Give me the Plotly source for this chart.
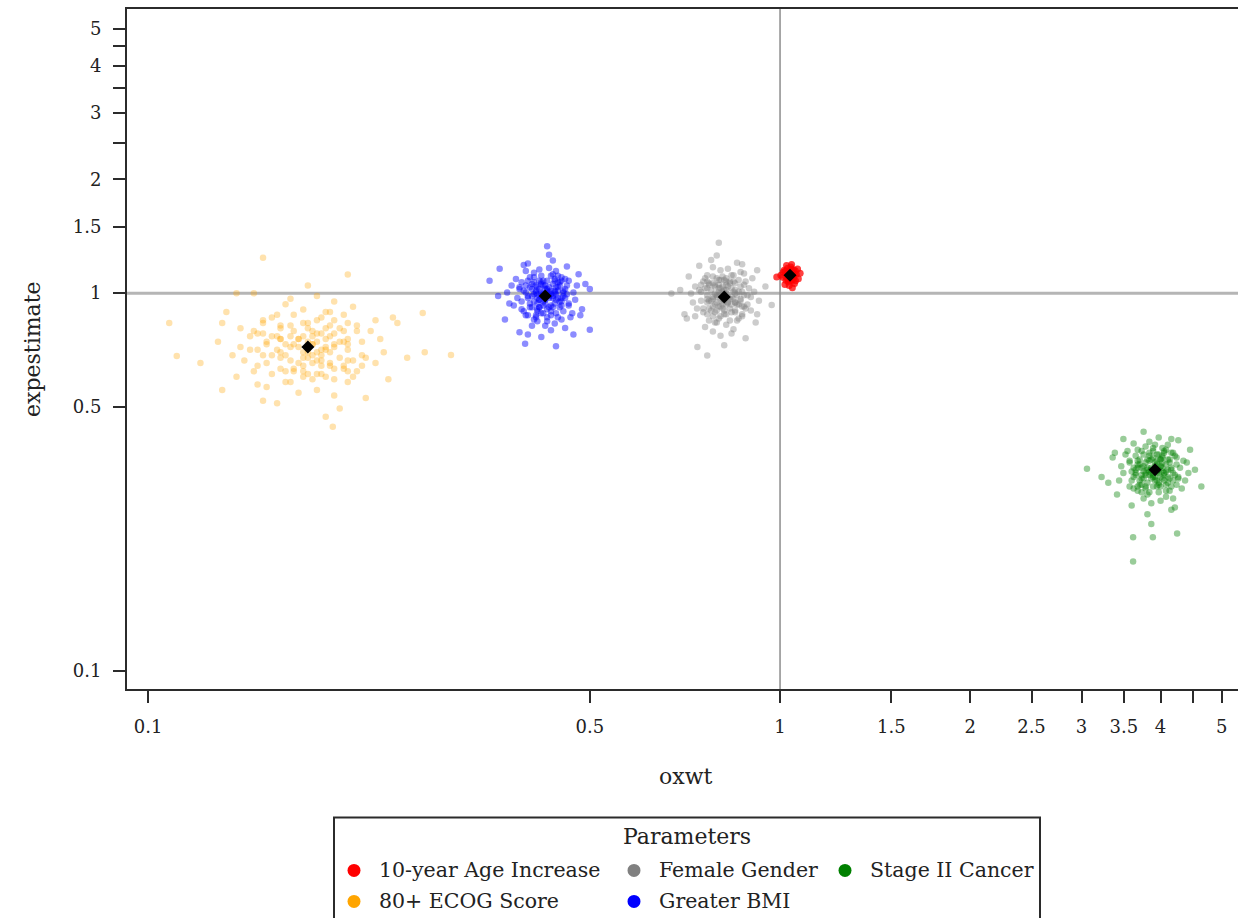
import plotly.graph_objects as go

# ---------------- data ----------------
series_names = ["10-year Age Increase", "80+ ECOG Score", "Female Gender",
                "Greater BMI", "Stage II Cancer"]
series_colors = ["#FF0000", "#FFA500", "#808080", "#0000FF", "#008000"]

age_x = [1.042, 1.019, 1.051, 1.031, 1.061, 1.036, 1.046, 1.010, 1.040, 1.027,
         1.054, 1.033, 1.037, 1.069, 1.022, 1.045, 1.028, 1.057, 1.003, 1.049,
         1.034, 1.043, 1.015, 1.052, 1.025, 1.039, 1.066, 1.030, 1.048, 1.018,
         1.040, 1.024, 1.058, 1.036, 1.046, 1.012, 1.042, 1.076, 1.031, 1.051,
         0.988]
age_y = [1.098, 1.142, 1.152, 1.071, 1.122, 1.118, 1.084, 1.101, 1.173, 1.129,
         1.061, 1.108, 1.135, 1.091, 1.081, 1.125, 1.163, 1.146, 1.115, 1.105,
         1.047, 1.190, 1.149, 1.115, 1.095, 1.078, 1.159, 1.122, 1.132, 1.054,
         1.112, 1.183, 1.078, 1.146, 1.033, 1.135, 1.156, 1.129, 1.088, 1.098,
         1.104]

ecog_x = [0.165, 0.204, 0.214, 0.145, 0.185, 0.182, 0.154, 0.168, 0.236, 0.191,
          0.138, 0.173, 0.197, 0.160, 0.152, 0.188, 0.225, 0.207, 0.179, 0.170,
          0.129, 0.257, 0.211, 0.179, 0.162, 0.149, 0.221, 0.185, 0.194, 0.133,
          0.176, 0.248, 0.149, 0.207, 0.121, 0.197, 0.218, 0.191, 0.157, 0.165,
          0.188, 0.168, 0.240, 0.147, 0.179, 0.140, 0.173, 0.201, 0.142, 0.176,
          0.204, 0.233, 0.154, 0.179, 0.191, 0.170, 0.201, 0.160, 0.229, 0.154,
          0.188, 0.207, 0.136, 0.214, 0.168, 0.194, 0.176, 0.165, 0.274, 0.149,
          0.197, 0.229, 0.162, 0.179, 0.211, 0.194, 0.147, 0.204, 0.140, 0.131,
          0.185, 0.207, 0.162, 0.182, 0.131, 0.185, 0.244, 0.152, 0.182, 0.218,
          0.108, 0.111, 0.3015, 0.152, 0.196, 0.138, 0.272,
          0.188, 0.176, 0.194, 0.204, 0.170, 0.162, 0.157, 0.185, 0.211, 0.191,
          0.197, 0.152, 0.173, 0.149, 0.207, 0.179, 0.165, 0.185, 0.170, 0.201,
          0.182, 0.162, 0.218, 0.145, 0.194, 0.182, 0.160, 0.176, 0.197, 0.188,
          0.157, 0.168, 0.173, 0.207, 0.214, 0.191, 0.162, 0.176, 0.188, 0.154,
          0.165, 0.188, 0.176, 0.201, 0.207, 0.191, 0.197, 0.168, 0.152, 0.182,
          0.173, 0.168, 0.194, 0.207, 0.157, 0.147, 0.185, 0.170, 0.221, 0.197,
          0.176, 0.185, 0.160, 0.197, 0.204, 0.152, 0.182, 0.162, 0.191, 0.179]
ecog_y = [0.685, 0.876, 0.621, 0.769, 0.554, 0.732, 0.653, 0.966, 0.697, 0.807,
          0.601, 0.756, 0.720, 0.511, 0.848, 0.663, 0.794, 0.582, 1.048, 0.631,
          0.744, 0.675, 0.920, 0.611, 0.821, 0.708, 0.528, 0.782, 0.642, 0.891,
          0.697, 0.834, 0.573, 0.732, 0.653, 0.950, 0.685, 0.471, 0.769, 0.621,
          0.862, 0.720, 0.592, 0.999, 0.675, 0.807, 0.545, 0.744, 0.663, 0.905,
          0.631, 0.756, 0.564, 0.834, 0.708, 0.794, 0.495, 0.876, 0.653, 0.732,
          0.611, 1.120, 0.685, 0.821, 0.582, 0.769, 0.642, 0.935, 0.697, 0.782,
          0.536, 0.848, 0.675, 0.744, 0.601, 0.891, 0.621, 0.794, 0.720, 0.554,
          0.982, 0.663, 0.756, 0.592, 0.834, 0.697, 0.862, 0.519, 0.769, 0.642,
          0.833, 0.682, 0.686, 1.240, 0.443, 1.000, 0.886,
          0.708, 0.769, 0.653, 0.744, 0.621, 0.807, 0.685, 0.848, 0.663, 0.756,
          0.592, 0.782, 0.720, 0.642, 0.834, 0.697, 0.732, 0.611, 0.876, 0.675,
          0.794, 0.631, 0.744, 0.708, 0.821, 0.653, 0.769, 0.601, 0.732, 0.685,
          0.862, 0.663, 0.756, 0.621, 0.794, 0.720, 0.697, 0.834, 0.642, 0.744,
          0.582, 0.782, 0.675, 0.807, 0.708, 0.891, 0.631, 0.769, 0.685, 0.732,
          0.653, 0.821, 0.697, 0.756, 0.611, 0.794, 0.663, 0.732, 0.675, 0.848,
          0.621, 0.744, 0.708, 0.782, 0.642, 0.834, 0.685, 0.756, 0.601, 0.807]

female_x = [0.844, 0.772, 0.756, 0.888, 0.805, 0.811, 0.866, 0.838, 0.723, 0.794,
            0.904, 0.827, 0.783, 0.855, 0.871, 0.800, 0.739, 0.767, 0.816, 0.833,
            0.926, 0.695, 0.761, 0.816, 0.849, 0.877, 0.745, 0.805, 0.789, 0.915,
            0.822, 0.706, 0.877, 0.767, 0.948, 0.783, 0.750, 0.794, 0.860, 0.844,
            0.800, 0.838, 0.717, 0.882, 0.816, 0.899, 0.827, 0.778, 0.893, 0.822,
            0.772, 0.728, 0.866, 0.816, 0.794, 0.833, 0.778, 0.855, 0.734, 0.866,
            0.800, 0.767, 0.910, 0.756, 0.838, 0.789, 0.822, 0.844, 0.673, 0.877,
            0.783, 0.734, 0.849, 0.816, 0.761, 0.789, 0.882, 0.772, 0.899, 0.920,
            0.805, 0.767, 0.849, 0.811, 0.920, 0.805, 0.712, 0.871, 0.811, 0.750,
            0.800, 0.740, 0.970,
            0.800, 0.822, 0.789, 0.772, 0.833, 0.849, 0.860, 0.805, 0.761, 0.794,
            0.783, 0.871, 0.827, 0.877, 0.767, 0.816, 0.844, 0.805, 0.833, 0.778,
            0.811, 0.849, 0.750, 0.888, 0.789, 0.811, 0.855, 0.822, 0.783, 0.800,
            0.860, 0.838, 0.827, 0.767, 0.756, 0.794, 0.849, 0.822, 0.800, 0.866,
            0.844, 0.800, 0.822, 0.778, 0.767, 0.794, 0.783, 0.838, 0.871, 0.811,
            0.827, 0.838, 0.789, 0.767, 0.860, 0.882, 0.805, 0.833, 0.745, 0.783,
            0.822, 0.805, 0.855, 0.783, 0.772, 0.871, 0.811, 0.849, 0.794, 0.816]
female_y = [1.008, 0.846, 1.073, 0.933, 1.149, 0.965, 1.041, 0.782, 0.998, 0.900,
            1.095, 0.944, 0.976, 1.203, 0.868, 1.030, 0.911, 1.116, 0.728, 1.062,
            0.954, 1.019, 0.814, 1.084, 0.890, 0.987, 1.181, 0.922, 1.052, 0.836,
            0.998, 0.879, 1.127, 0.965, 1.041, 0.792, 1.008, 1.257, 0.933, 1.073,
            0.857, 0.976, 1.106, 0.760, 1.019, 0.900, 1.160, 0.954, 1.030, 0.825,
            1.062, 0.944, 1.138, 0.879, 0.987, 0.911, 1.224, 0.846, 1.041, 0.965,
            1.084, 0.684, 1.008, 0.890, 1.116, 0.933, 1.052, 0.803, 0.998, 0.922,
            1.170, 0.868, 1.019, 0.954, 1.095, 0.836, 1.073, 0.911, 0.976, 1.149,
            0.771, 1.030, 0.944, 1.106, 0.879, 0.998, 0.857, 1.192, 0.933, 1.052,
            1.360, 0.720, 0.930,
            0.987, 0.933, 1.041, 0.954, 1.073, 0.900, 1.008, 0.868, 1.030, 0.944,
            1.106, 0.922, 0.976, 1.052, 0.879, 0.998, 0.965, 1.084, 0.846, 1.019,
            0.911, 1.062, 0.954, 0.987, 0.890, 1.041, 0.933, 1.095, 0.965, 1.008,
            0.857, 1.030, 0.944, 1.073, 0.911, 0.976, 0.998, 0.879, 1.052, 0.954,
            1.116, 0.922, 1.019, 0.900, 0.987, 0.836, 1.062, 0.933, 1.008, 0.965,
            1.041, 0.890, 0.998, 0.944, 1.084, 0.911, 1.030, 0.965, 1.019, 0.868,
            1.073, 0.954, 0.987, 0.922, 1.052, 0.879, 1.008, 0.944, 1.095, 0.900]

bmi_x = [0.434, 0.390, 0.451, 0.413, 0.471, 0.422, 0.442, 0.373, 0.431, 0.405,
         0.457, 0.416, 0.425, 0.486, 0.396, 0.440, 0.408, 0.463, 0.358, 0.448,
         0.419, 0.437, 0.382, 0.454, 0.402, 0.428, 0.480, 0.411, 0.445, 0.387,
         0.431, 0.399, 0.466, 0.422, 0.442, 0.376, 0.434, 0.500, 0.413, 0.451,
         0.393, 0.425, 0.460, 0.367, 0.437, 0.405, 0.474, 0.419, 0.440, 0.384,
         0.448, 0.416, 0.469, 0.399, 0.428, 0.408, 0.492, 0.390, 0.442, 0.422,
         0.454, 0.347, 0.434, 0.402, 0.463, 0.413, 0.445, 0.379, 0.431, 0.411,
         0.477, 0.396, 0.437, 0.419, 0.457, 0.387, 0.451, 0.408, 0.425, 0.471,
         0.370, 0.440, 0.416, 0.460, 0.399, 0.431, 0.393, 0.483, 0.413, 0.445,
         0.428, 0.395, 0.500, 0.360,
         0.428, 0.413, 0.442, 0.419, 0.451, 0.405, 0.434, 0.396, 0.440, 0.416,
         0.460, 0.411, 0.425, 0.445, 0.399, 0.431, 0.422, 0.454, 0.390, 0.437,
         0.408, 0.448, 0.419, 0.428, 0.402, 0.442, 0.413, 0.457, 0.422, 0.434,
         0.393, 0.440, 0.416, 0.451, 0.408, 0.425, 0.431, 0.399, 0.445, 0.419,
         0.463, 0.411, 0.437, 0.405, 0.428, 0.387, 0.448, 0.413, 0.434, 0.422,
         0.442, 0.402, 0.431, 0.416, 0.454, 0.408, 0.440, 0.422, 0.437, 0.396,
         0.451, 0.419, 0.428, 0.411, 0.445, 0.399, 0.434, 0.416, 0.457, 0.405]
bmi_y = [0.928, 1.068, 1.101, 0.842, 1.004, 0.993, 0.885, 0.939, 1.166, 1.025,
         0.809, 0.960, 1.047, 0.906, 0.874, 1.014, 1.133, 1.079, 0.982, 0.950,
         0.766, 1.220, 1.090, 0.982, 0.917, 0.863, 1.122, 1.004, 1.036, 0.788,
         0.971, 1.198, 0.863, 1.079, 0.723, 1.047, 1.112, 1.025, 0.896, 0.928,
         1.014, 0.939, 1.176, 0.852, 0.982, 0.820, 0.960, 1.058, 0.831, 0.971,
         1.068, 1.155, 0.885, 0.982, 1.025, 0.950, 1.058, 0.906, 1.144, 0.885,
         1.014, 1.079, 0.798, 1.101, 0.939, 1.036, 0.971, 0.928, 1.263, 0.863,
         1.047, 1.144, 0.917, 0.982, 1.090, 1.036, 0.852, 1.068, 0.820, 0.777,
         1.004, 1.079, 0.917, 0.993, 0.777, 1.004, 1.187, 0.874, 0.993, 1.112,
         1.330, 0.735, 0.800, 1.160,
         1.014, 0.971, 1.036, 1.068, 0.950, 0.917, 0.896, 1.004, 1.090, 1.025,
         1.047, 0.874, 0.960, 0.863, 1.079, 0.982, 0.928, 1.004, 0.950, 1.058,
         0.993, 0.917, 1.112, 0.842, 1.036, 0.993, 0.906, 0.971, 1.047, 1.014,
         0.896, 0.939, 0.960, 1.079, 1.101, 1.025, 0.917, 0.971, 1.014, 0.885,
         0.928, 1.014, 0.971, 1.058, 1.079, 1.025, 1.047, 0.939, 0.874, 0.993,
         0.960, 0.939, 1.036, 1.079, 0.896, 0.852, 1.004, 0.950, 1.122, 1.047,
         0.971, 1.004, 0.906, 1.047, 1.068, 0.874, 0.993, 0.917, 1.025, 0.982]

stage_x = [3.841, 4.241, 3.681, 4.028, 3.494, 3.948, 3.761, 4.402, 3.868, 4.108,
           3.627, 4.001, 3.921, 3.360, 4.188, 3.788, 4.081, 3.574, 4.535, 3.707,
           3.974, 3.814, 4.322, 3.654, 4.135, 3.894, 3.414, 4.055, 3.734, 4.268,
           3.868, 4.161, 3.547, 3.948, 3.761, 4.375, 3.841, 3.227, 4.028, 3.681,
           4.215, 3.921, 3.601, 4.455, 3.814, 4.108, 3.467, 3.974, 3.788, 4.295,
           3.707, 4.001, 3.521, 4.161, 3.894, 4.081, 3.307, 4.241, 3.761, 3.948,
           3.654, 4.642, 3.841, 4.135, 3.574, 4.028, 3.734, 4.348, 3.868, 4.055,
           3.440, 4.188, 3.814, 3.974, 3.627, 4.268, 3.681, 4.081, 3.921, 3.494,
           4.428, 3.788, 4.001, 3.601, 4.161, 3.868, 4.215, 3.387, 4.028, 3.734,
           3.620, 3.620, 3.890, 4.250, 3.060,
           3.894, 4.028, 3.761, 3.974, 3.681, 4.108, 3.841, 4.188, 3.788, 4.001,
           3.601, 4.055, 3.921, 3.734, 4.161, 3.868, 3.948, 3.654, 4.241, 3.814,
           4.081, 3.707, 3.974, 3.894, 4.135, 3.761, 4.028, 3.627, 3.948, 3.841,
           4.215, 3.788, 4.001, 3.681, 4.081, 3.921, 3.868, 4.161, 3.734, 3.974,
           3.574, 4.055, 3.814, 4.108, 3.894, 4.268, 3.707, 4.028, 3.841, 3.948,
           3.761, 4.135, 3.868, 4.001, 3.654, 4.081, 3.788, 3.948, 3.814, 4.188,
           3.681, 3.974, 3.894, 4.055, 3.734, 4.161, 3.841, 4.001, 3.627, 4.108]
stage_y = [0.360, 0.311, 0.300, 0.389, 0.334, 0.337, 0.374, 0.356, 0.278, 0.326,
           0.400, 0.348, 0.319, 0.367, 0.378, 0.330, 0.289, 0.308, 0.341, 0.352,
           0.415, 0.260, 0.304, 0.341, 0.363, 0.382, 0.293, 0.334, 0.323, 0.408,
           0.345, 0.267, 0.382, 0.308, 0.430, 0.319, 0.297, 0.326, 0.371, 0.360,
           0.330, 0.356, 0.274, 0.385, 0.341, 0.397, 0.348, 0.315, 0.393, 0.345,
           0.311, 0.282, 0.374, 0.341, 0.326, 0.352, 0.315, 0.367, 0.286, 0.374,
           0.330, 0.308, 0.404, 0.300, 0.356, 0.323, 0.345, 0.360, 0.245, 0.382,
           0.319, 0.286, 0.363, 0.341, 0.304, 0.323, 0.385, 0.311, 0.397, 0.411,
           0.334, 0.308, 0.363, 0.337, 0.411, 0.334, 0.271, 0.378, 0.337, 0.297,
           0.195, 0.226, 0.226, 0.231, 0.343,
           0.330, 0.345, 0.323, 0.311, 0.352, 0.363, 0.371, 0.334, 0.304, 0.326,
           0.319, 0.378, 0.348, 0.382, 0.308, 0.341, 0.360, 0.334, 0.352, 0.315,
           0.337, 0.363, 0.297, 0.389, 0.323, 0.337, 0.367, 0.345, 0.319, 0.330,
           0.371, 0.356, 0.348, 0.308, 0.300, 0.326, 0.363, 0.345, 0.330, 0.374,
           0.360, 0.330, 0.345, 0.315, 0.308, 0.326, 0.319, 0.356, 0.378, 0.337,
           0.348, 0.356, 0.323, 0.308, 0.371, 0.385, 0.334, 0.352, 0.293, 0.319,
           0.345, 0.334, 0.367, 0.319, 0.311, 0.378, 0.337, 0.363, 0.326, 0.341]

# posterior means per parameter (same order as series_names)
mean_x = [1.037, 0.179, 0.816, 0.425, 3.921]
mean_y = [1.115, 0.720, 0.976, 0.982, 0.341]

x_tick_vals = [0.1, 0.5, 1, 1.5, 2, 2.5, 3, 3.5, 4, 4.5, 5]
x_tick_text = ["0.1", "0.5", "1", "1.5", "2", "2.5", "3", "3.5", "4", "", "5"]
y_tick_vals = [0.1, 0.5, 1, 1.5, 2, 2.5, 3, 3.5, 4, 4.5, 5]
y_tick_text = ["0.1", "0.5", "1", "1.5", "2", "", "3", "", "4", "", "5"]
x_limits = [0.0926, 5.305]
y_limits = [0.0896, 5.65]
ref_value = 1

# ---------------- figure ----------------
W, H = 1248, 918
L, R, T, B = 127, 10, 7, 229
PW, PH = W - L - R, H - T - B
FONT = "DejaVu Serif"
INK = "#2b2b2b"


def px_x(px):
    return (px - L) / PW


def px_y(py):
    return (T + PH - py) / PH


fig = go.Figure()

# reference lines at 1
fig.add_trace(go.Scatter(x=x_limits, y=[ref_value, ref_value], mode="lines",
                         line=dict(color="#b5b5b5", width=3),
                         showlegend=False, hoverinfo="skip"))
fig.add_trace(go.Scatter(x=[ref_value, ref_value], y=y_limits, mode="lines",
                         line=dict(color="#8c8c8c", width=1.5),
                         showlegend=False, hoverinfo="skip"))

clouds = [(age_x, age_y), (ecog_x, ecog_y), (female_x, female_y),
          (bmi_x, bmi_y), (stage_x, stage_y)]
dots = [(7, 0.75), (6.5, 0.32), (6.5, 0.4), (6.5, 0.45), (6.5, 0.4)]
for (cx, cy), name, col, (ds, do) in zip(clouds, series_names,
                                         series_colors, dots):
    fig.add_trace(go.Scatter(x=cx, y=cy, mode="markers", name=name,
                             marker=dict(color=col, size=ds, opacity=do,
                                         line=dict(width=0)),
                             showlegend=False))

fig.add_trace(go.Scatter(x=mean_x, y=mean_y, mode="markers",
                         marker=dict(symbol="diamond", color="black", size=10),
                         showlegend=False))

axis_common = dict(
    type="log", showgrid=False, zeroline=False, showline=True,
    linecolor=INK, linewidth=2, ticks="outside", ticklen=12, tickwidth=1.5,
    tickcolor=INK, tickfont=dict(family=FONT, size=18, color="#222"),
)
fig.update_xaxes(**axis_common, range=[-1.0334, 0.7247], mirror=True,
                 tickvals=x_tick_vals, ticktext=x_tick_text,
                 ticklabelstandoff=8)
fig.update_yaxes(**axis_common, range=[-1.0477, 0.752],
                 tickvals=y_tick_vals, ticktext=y_tick_text,
                 ticklabelstandoff=8)

annotations = [
    dict(text="oxwt", x=px_x(685), y=px_y(777), xref="paper", yref="paper",
         showarrow=False, xanchor="center", yanchor="middle",
         font=dict(family=FONT, size=22, color="#222")),
    dict(text="expestimate", x=px_x(32), y=px_y(348), xref="paper", yref="paper",
         showarrow=False, xanchor="center", yanchor="middle", textangle=-90,
         font=dict(family=FONT, size=22, color="#222")),
    dict(text="Parameters", x=px_x(687), y=px_y(837), xref="paper", yref="paper",
         showarrow=False, xanchor="center", yanchor="middle",
         font=dict(family=FONT, size=22, color="#222")),
]
shapes = [
    dict(type="rect", xref="paper", yref="paper",
         x0=px_x(334), x1=px_x(1040), y0=px_y(818), y1=px_y(940),
         line=dict(color=INK, width=2), fillcolor="white", layer="above"),
]

# legend entries laid out in rows of three
slot_x = [354, 634, 845]
row_y = [871, 902]
legend_order = [0, 2, 4, 1, 3]
for k, idx in enumerate(legend_order):
    mx = slot_x[k % 3]
    my = row_y[k // 3]
    shapes.append(dict(type="circle", xref="paper", yref="paper",
                       xsizemode="pixel", ysizemode="pixel",
                       xanchor=px_x(mx), yanchor=px_y(my),
                       x0=-6.5, x1=6.5, y0=-6.5, y1=6.5,
                       fillcolor=series_colors[idx], line=dict(width=0),
                       layer="above"))
    annotations.append(dict(text=series_names[idx], x=px_x(mx + 23), y=px_y(my),
                            xref="paper", yref="paper", showarrow=False,
                            xanchor="left", yanchor="middle",
                            font=dict(family=FONT, size=20.5, color="#222")))

fig.update_layout(
    width=W, height=H,
    margin=dict(l=L, r=R, t=T, b=B),
    paper_bgcolor="white", plot_bgcolor="white",
    showlegend=False,
    annotations=annotations, shapes=shapes,
)

fig.write_html("out.html")
